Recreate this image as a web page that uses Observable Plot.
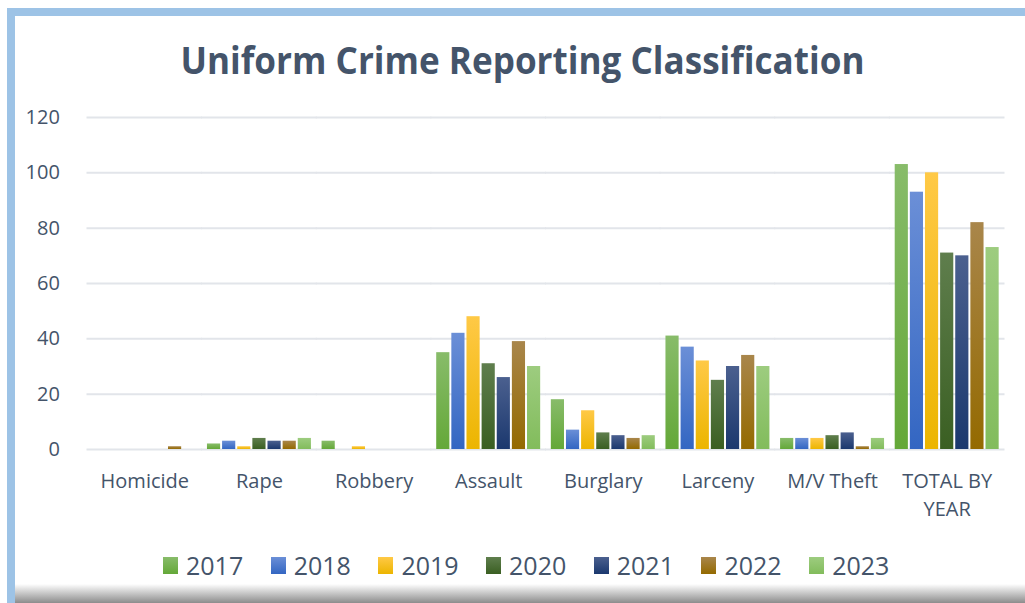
<!DOCTYPE html>
<html><head><meta charset="utf-8">
<script src="https://cdn.jsdelivr.net/npm/d3@7"></script>
<script src="https://cdn.jsdelivr.net/npm/@observablehq/plot@0.6"></script>
<style>
html,body{margin:0;padding:0;background:#fff;}
body{width:1025px;height:603px;overflow:hidden;position:relative;font-family:"Open Sans",sans-serif;}
#frame{position:absolute;left:7px;top:8px;width:1040px;height:620px;border-left:8px solid #9DC3E6;border-top:8px solid #9DC3E6;box-sizing:border-box;}
#shadow{position:absolute;left:15px;right:0;top:584px;height:19px;background:linear-gradient(rgba(255,255,255,0),#8c8c8c);}
#title{position:absolute;left:0;top:40px;width:1045px;text-align:center;font-size:38px;line-height:38px;font-weight:700;color:#44546A;white-space:nowrap;}
#title span{display:inline-block;transform-origin:50% 50%;}
#chart{position:absolute;left:0;top:100px;}
#legend{position:absolute;left:163px;top:550px;display:flex;align-items:center;gap:27.5px;font-size:25px;line-height:30px;color:#44546A;}
#legend .item{display:flex;align-items:center;}
#legend .sw{width:15px;height:17px;margin-right:8px;}
</style>
</head><body>
<div id="frame"></div>
<div id="shadow"></div>
<div id="title"><span>Uniform Crime Reporting Classification</span></div>
<div id="chart"></div>
<div id="legend"></div>
<script>
const categories = ["Homicide", "Rape", "Robbery", "Assault", "Burglary", "Larceny", "M/V Theft", "TOTAL BY\nYEAR"];
const years = ["2017", "2018", "2019", "2020", "2021", "2022", "2023"];
const v2017 = [0, 2, 3, 35, 18, 41, 4, 103];
const v2018 = [0, 3, 0, 42, 7, 37, 4, 93];
const v2019 = [0, 1, 1, 48, 14, 32, 4, 100];
const v2020 = [0, 4, 0, 31, 6, 25, 5, 71];
const v2021 = [0, 3, 0, 26, 5, 30, 6, 70];
const v2022 = [1, 3, 0, 39, 4, 34, 1, 82];
const v2023 = [0, 4, 0, 30, 5, 30, 4, 73];
const yTicks = [0, 20, 40, 60, 80, 100, 120];
const colorTop = ["#88BC6A", "#6B8FD7", "#FFC946", "#5F7E4D", "#4B608F", "#A9864B", "#9DCC7F"];
const colorBottom = ["#64A838", "#3366C2", "#ECB500", "#3A5F22", "#1B386E", "#946A00", "#82BC5C"];

const series = [v2017, v2018, v2019, v2020, v2021, v2022, v2023];
const data = [];
years.forEach((yr, i) => categories.forEach((c, j) => data.push({category: c, year: yr, value: series[i][j]})));

const width = 1025, height = 440;
const mL = 87, mR = 21;
const fxPad = 0.093;
const step = (width - mL - mR) / categories.length;
const ext = fxPad * step / 2 + 0.5;

const svg = Plot.plot({
  width, height,
  marginTop: 17, marginBottom: 91, marginLeft: mL, marginRight: mR,
  style: {fontFamily: "'Open Sans', sans-serif", fontSize: "20px", color: "#44546A", background: "transparent"},
  fx: {domain: categories, paddingInner: fxPad, paddingOuter: fxPad / 2, round: false, label: null},
  x: {domain: years, paddingInner: 0.13, paddingOuter: 0, round: false, axis: null},
  y: {domain: [0, 120], label: null},
  color: {type: "identity"},
  marks: [
    Plot.ruleY(yTicks, {stroke: "#E2E5EA", strokeWidth: 2, insetLeft: -ext, insetRight: -ext}),
    Plot.barY(data, {fx: "category", x: "year", y: "value", fill: d => `url(#g${d.year})`}),
    Plot.axisY({ticks: yTicks, tickSize: 0, tickPadding: 33, fontSize: 20, fill: "#44546A", label: null}),
    Plot.axisFx({anchor: "bottom", tickSize: 0, tickPadding: 19, fontSize: 20, lineHeight: 1.4, fill: "#44546A", label: null})
  ]
});

const defs = d3.select(svg).insert("defs", ":first-child");
years.forEach((yr, i) => {
  const g = defs.append("linearGradient").attr("id", "g" + yr).attr("x1", 0).attr("y1", 0).attr("x2", 0).attr("y2", 1);
  g.append("stop").attr("offset", "0%").attr("stop-color", colorTop[i]);
  g.append("stop").attr("offset", "100%").attr("stop-color", colorBottom[i]);
});
document.getElementById("chart").appendChild(svg);

const legend = d3.select("#legend");
years.forEach((yr, i) => {
  const it = legend.append("div").attr("class", "item");
  it.append("div").attr("class", "sw").style("background", `linear-gradient(${colorTop[i]}, ${colorBottom[i]})`);
  it.append("span").text(yr);
});

const span = document.querySelector("#title span");
const w = span.getBoundingClientRect().width;
span.style.transform = `scaleX(${684 / w})`;
</script>
</body></html>
